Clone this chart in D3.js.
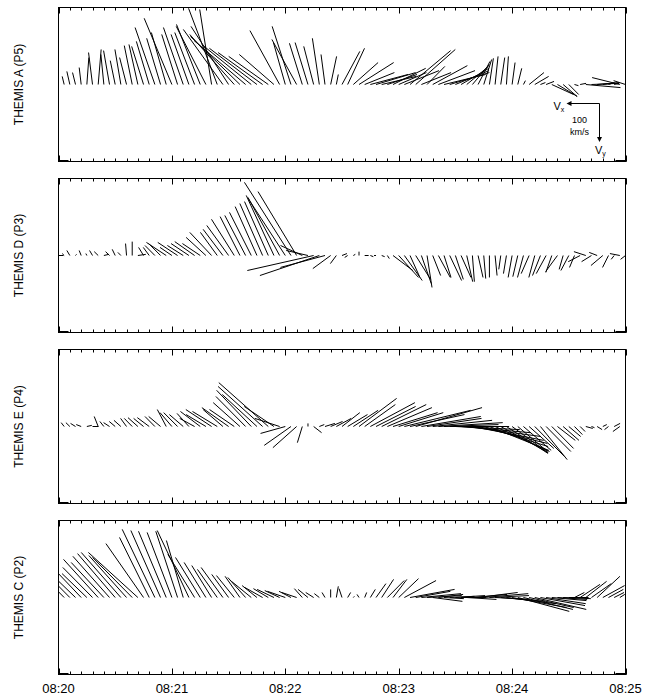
<!DOCTYPE html>
<html>
<head>
<meta charset="utf-8">
<script src="https://cdn.jsdelivr.net/npm/d3@7"></script>
<style>
  html, body { margin: 0; padding: 0; background: #fff; }
  svg { display: block; }
  text { font-family: "Liberation Sans", Arial, sans-serif; fill: #000; }
</style>
</head>
<body>
<svg id="chart" width="653" height="699"></svg>
<script>
// ---------------- DATA ----------------
const panelNames = ["THEMIS A (P5)", "THEMIS D (P3)", "THEMIS E (P4)", "THEMIS C (P2)"];
const startTime = "2008-02-26T08:20:00Z";
const endTime = "2008-02-26T08:25:00Z";
const cadenceSec = 3;
const tickLabels = ["08:20", "08:21", "08:22", "08:23", "08:24", "08:25"];
const keySpeed = 100; // km/s

// Flow vectors (km/s), one every 3 s starting 08:20:00
const vxA = [6,6,9,9,6,-6,12,-9,9,18,15,18,21,24,27,36,39,60,42,45,84,48,60,54,60,72,90,36,87,120,114,135,150,156,150,144,135,120,105,90,36,57,75,39,39,30,21,12,-18,-6,-54,-51,-75,-105,-90,-114,-120,-105,-90,-99,-84,-105,-123,-120,-90,-54,-105,-111,-126,-120,-102,-84,-66,-51,-36,-24,-12,-9,-12,-6,-9,-12,-6,-45,-42,-15,-24,-66,-60,-42,-30,-12,-18,-105,-84,-66,-30,-18,-15,84,36];
const vyA = [-10,-21,-34,-31,-44,-70,-83,-91,-78,-88,-62,-91,-70,-101,-104,-99,-112,-148,-120,-135,-172,-130,-148,-130,-135,-156,-151,-195,-198,-143,-151,-130,-125,-114,-104,-94,-83,-73,-78,-140,-109,-151,-117,-107,-109,-99,-120,-78,-73,-26,-86,-94,-57,-57,-31,-26,-31,-21,-26,-42,-31,-36,-88,-91,-31,-47,-49,-36,-26,-31,-36,-42,-47,-52,-60,-65,-68,-73,-70,-73,-57,-42,-10,-31,-21,-5,-8,26,31,31,26,3,-3,8,-3,-5,-3,-5,-3,-18,-10];

const vxD = [-15,6,9,-3,6,3,9,12,-15,12,9,9,3,0,-24,15,18,30,36,60,36,60,48,54,60,54,60,66,51,60,66,69,60,63,66,66,69,72,84,96,111,141,117,66,66,201,180,135,54,18,-15,9,-6,0,-12,-9,6,-9,-6,-60,-60,-54,-30,-45,-30,-15,-24,-36,-21,-36,-24,-30,-18,-6,-15,-6,0,-6,6,9,12,15,18,24,18,24,30,18,36,12,24,15,36,36,30,24,36,18,9,30,15];
const vyD = [0,-5,-13,-3,-13,-5,-13,-10,-3,-10,-16,-8,-31,-36,-3,-21,-21,-26,-31,-34,-21,-34,-26,-31,-36,-31,-47,-60,-60,-68,-78,-94,-101,-104,-112,-127,-135,-140,-156,-151,-146,-190,-166,-26,-13,39,52,31,34,21,-5,5,-3,-10,0,3,0,3,8,39,57,65,57,62,73,83,52,57,57,65,62,57,68,68,57,60,57,52,36,47,57,55,57,47,57,52,47,44,42,36,39,31,16,-10,16,-8,26,31,10,-5,10];

const vxE = [6,9,12,15,15,-15,-18,12,12,18,18,21,18,24,30,30,36,30,36,27,36,42,42,36,45,60,60,78,75,60,81,75,81,90,105,105,135,150,90,75,75,81,72,15,0,-24,-15,-30,-36,-45,-54,-60,-75,-114,-93,-135,-120,-135,-135,-135,-135,-201,-165,-201,-180,-165,-180,-195,-165,-180,-195,-210,-225,-216,-210,-195,-180,-165,-144,-126,-108,-90,-84,-75,-90,-81,-75,-66,-54,-48,-36,-24,-15,-21,-9,-15,-12,12,-18,21,-9];
const vyE = [-8,-10,-10,-8,-5,-3,0,-26,-13,-10,-13,-16,-21,-21,-23,-21,-23,-26,-26,-44,-36,-36,-31,-34,-21,-39,-31,-44,-39,-44,-49,-44,-62,-78,-94,-83,-104,-114,-52,-21,18,49,55,42,-8,16,-5,-8,-13,-21,-36,-31,-42,-73,-57,-62,-52,-57,-49,-36,-36,-42,-31,-49,-26,-21,-16,-10,-5,0,8,16,26,36,44,52,62,65,68,70,68,65,62,57,78,86,65,57,36,36,26,21,13,5,3,8,-5,8,-8,13,-5];

const vxC = [60,66,75,75,81,75,90,105,99,111,114,120,114,120,150,114,90,99,90,84,75,66,51,96,81,75,66,60,60,66,51,54,45,54,60,45,54,45,51,45,54,36,45,24,30,24,15,9,0,-6,9,-9,-3,6,-6,-15,-30,-36,-51,-42,-60,-96,-135,-105,-120,-105,-90,-75,-60,-75,-90,-75,-90,-105,-120,-135,-120,-105,-135,-150,-165,-156,-150,-135,-156,-135,-120,-105,-90,-84,-60,-30,-60,-63,-60,-69,-66,-45,-30,-15,0];
const vyC = [-52,-57,-65,-62,-73,-62,-78,-99,-91,-107,-114,-117,-109,-104,-117,-140,-156,-177,-174,-172,-169,-172,-148,-174,-112,-104,-91,-83,-73,-78,-60,-57,-55,-52,-42,-31,-26,-23,-21,-18,-16,-16,-13,-23,-21,-13,-10,-13,-21,-29,-23,-13,-3,-8,-13,-21,-36,-47,-44,-47,-49,-44,-21,-16,-10,-5,10,-8,3,-3,-5,0,5,-8,-13,-10,-5,5,10,16,26,36,31,26,31,21,16,8,5,3,0,-13,-34,-42,-36,-55,-31,-21,-13,-8,-5];

const seriesVx = [vxA, vxD, vxE, vxC];
const seriesVy = [vyA, vyD, vyE, vyC];

// ---------------- LAYOUT ----------------
const svg = d3.select("#chart");
const left = 58.5, right = 625.5;
const panelTops = [7.5, 178.5, 349.5, 520.5];
const panelH = 154;

const t0 = new Date(startTime), t1 = new Date(endTime);
const x = d3.scaleUtc().domain([t0, t1]).range([left, right]);
// vector scales: Vx points left, Vy points down (as in the key)
const vxScale = d3.scaleLinear().domain([0, 100]).range([0, -33]);
const vyHalf = 200;

const minorTicks = x.ticks(d3.utcSecond.every(6));
const majorTicks = x.ticks(d3.utcMinute.every(1));

panelTops.forEach((top, p) => {
  const bottom = top + panelH;
  const y = d3.scaleLinear().domain([-vyHalf, vyHalf]).range([top, bottom]);
  const g = svg.append("g");
  const clipId = "clip" + p;
  svg.append("clipPath").attr("id", clipId)
    .append("rect").attr("x", left).attr("y", top).attr("width", right - left).attr("height", panelH);

  const vx = seriesVx[p], vy = seriesVy[p];
  const pts = vx.map((v, i) => ({
    t: new Date(t0.getTime() + i * cadenceSec * 1000),
    vx: v, vy: vy[i]
  }));

  g.append("g").attr("clip-path", `url(#${clipId})`)
    .selectAll("line").data(pts).enter().append("line")
    .attr("x1", d => x(d.t))
    .attr("y1", y(0))
    .attr("x2", d => x(d.t) + vxScale(d.vx))
    .attr("y2", d => y(d.vy))
    .attr("stroke", "#000")
    .attr("stroke-width", 1);

  // frame
  g.append("rect").attr("x", left).attr("y", top).attr("width", right - left).attr("height", panelH)
    .attr("fill", "none").attr("stroke", "#000").attr("stroke-width", 1);

  // ticks (inward) top & bottom
  const tickG = g.append("g").attr("stroke", "#000").attr("stroke-width", 1);
  minorTicks.forEach(tk => {
    const xx = Math.round(x(tk)) + 0.5;
    tickG.append("line").attr("x1", xx).attr("x2", xx).attr("y1", top).attr("y2", top + 3);
    tickG.append("line").attr("x1", xx).attr("x2", xx).attr("y1", bottom).attr("y2", bottom - 3);
  });
  majorTicks.forEach(tk => {
    const xx = Math.round(x(tk)) + 0.5;
    tickG.append("line").attr("x1", xx).attr("x2", xx).attr("y1", top).attr("y2", top + 6);
    tickG.append("line").attr("x1", xx).attr("x2", xx).attr("y1", bottom).attr("y2", bottom - 6);
  });
  // y-axis corner ticks
  tickG.append("line").attr("x1", left).attr("x2", left + 10).attr("y1", bottom - 1).attr("y2", bottom - 1);
  tickG.append("line").attr("x1", right - 10).attr("x2", right).attr("y1", bottom - 1).attr("y2", bottom - 1);

  // label
  svg.append("text")
    .attr("transform", `translate(23,${(top + bottom) / 2}) rotate(-90)`)
    .attr("text-anchor", "middle")
    .attr("font-size", "12px")
    .text(panelNames[p]);

  // key in the first panel
  if (p === 0) {
    const cx = 599.5, cy = 103.5;
    const kx = cx + vxScale(keySpeed);
    const ky = cy + (y(keySpeed) - y(0));
    const kg = svg.append("g");
    kg.append("line").attr("x1", cx).attr("y1", cy).attr("x2", kx + 3).attr("y2", cy).attr("stroke", "#000");
    kg.append("line").attr("x1", cx).attr("y1", cy).attr("x2", cx).attr("y2", ky - 3).attr("stroke", "#000");
    kg.append("path").attr("d", `M${kx},${cy} L${kx + 5},${cy - 2.5} L${kx + 5},${cy + 2.5} Z`).attr("fill", "#000");
    kg.append("path").attr("d", `M${cx},${ky} L${cx - 2.5},${ky - 5} L${cx + 2.5},${ky - 5} Z`).attr("fill", "#000");
    const vxT = kg.append("text").attr("x", kx - 13).attr("y", cy + 6.5).attr("font-size", "11px");
    vxT.append("tspan").text("V");
    vxT.append("tspan").attr("font-size", "7px").attr("dy", 2).text("x");
    kg.append("text").attr("x", cx - 20).attr("y", cy + 19).attr("font-size", "9px").attr("text-anchor", "middle").text("100");
    kg.append("text").attr("x", cx - 20).attr("y", cy + 31).attr("font-size", "9px").attr("text-anchor", "middle").text("km/s");
    const vyT = kg.append("text").attr("x", cx - 4.5).attr("y", ky + 12).attr("font-size", "11px");
    vyT.append("tspan").text("V");
    vyT.append("tspan").attr("font-size", "7px").attr("dy", 2).text("y");
  }
});

// x tick labels
const lastBottom = panelTops[3] + panelH;
svg.append("g").selectAll("text").data(majorTicks).enter().append("text")
  .attr("x", d => x(d))
  .attr("y", lastBottom + 18)
  .attr("text-anchor", "middle")
  .attr("font-size", "13px")
  .text((d, i) => tickLabels[i]);
</script>
</body>
</html>
